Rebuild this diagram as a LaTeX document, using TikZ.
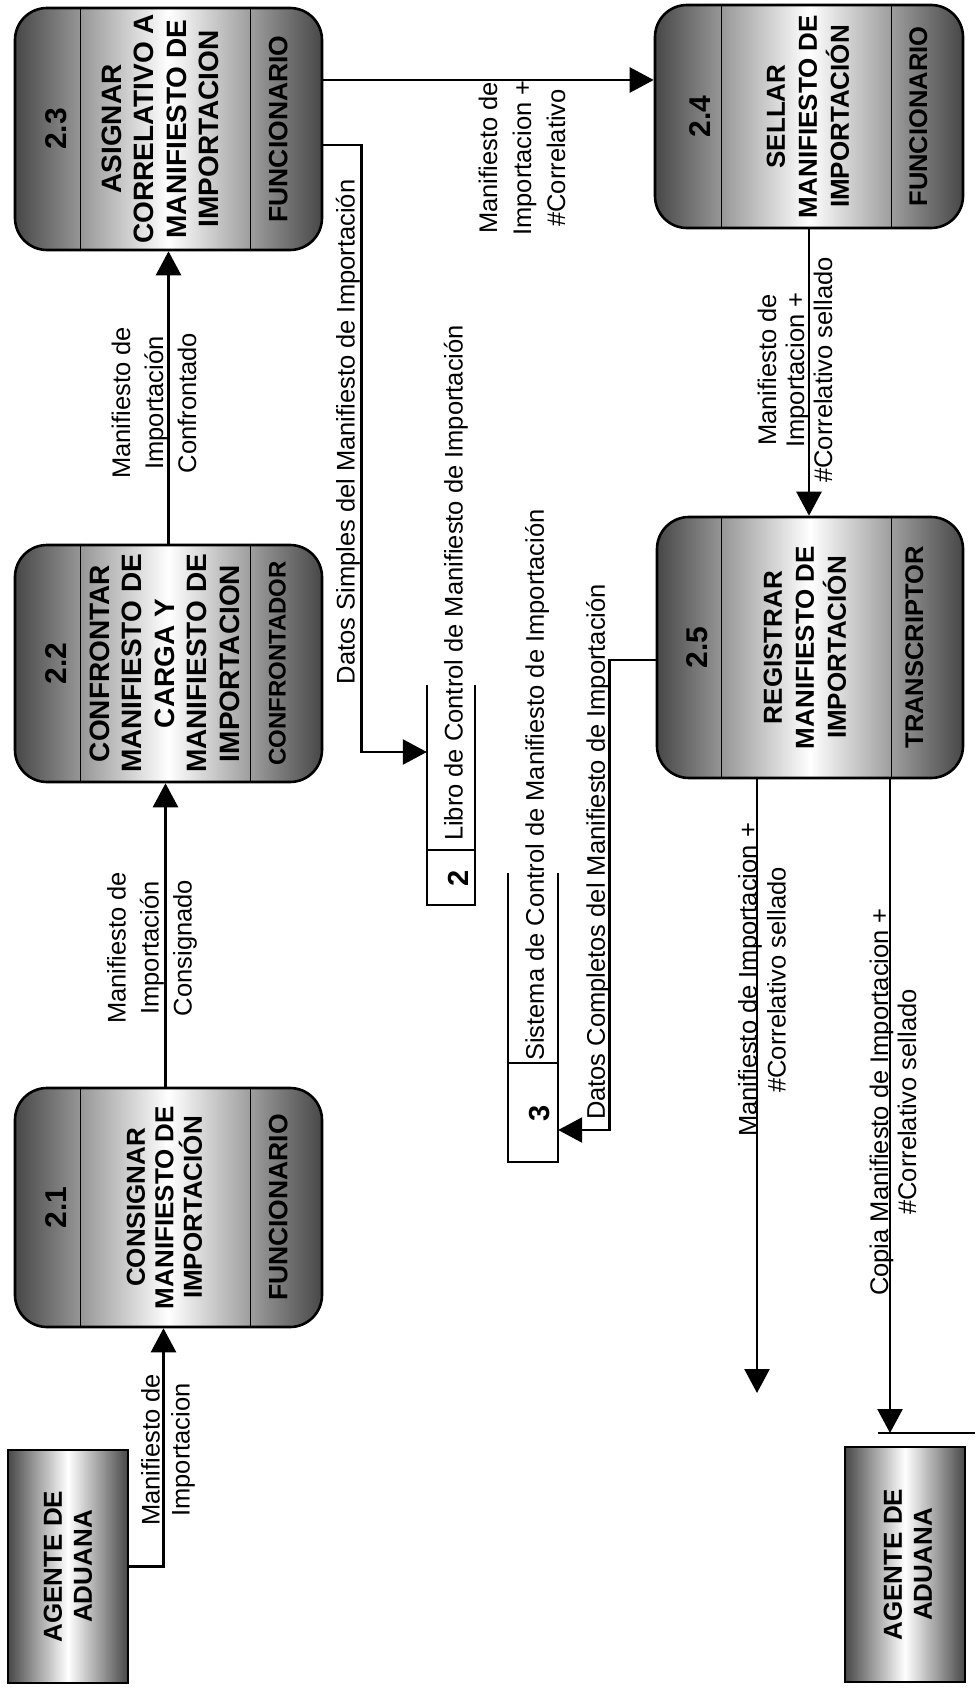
\documentclass[tikz,border=0pt]{standalone}
\usepackage{fontspec}
\setmainfont{Liberation Sans}
\usetikzlibrary{arrows.meta}
\pgfdeclarehorizontalshading{metal}{100bp}{color(0bp)=(black!72); color(25bp)=(black!72); color(36bp)=(black!40); color(50bp)=(white); color(64bp)=(black!40); color(75bp)=(black!72); color(100bp)=(black!72)}
\begin{document}
\begin{tikzpicture}[x=1pt,y=-1pt,
  proc/.style={draw, line width=2.6pt, rounded corners=32pt, shade, shading=metal, inner sep=0pt},
  ent/.style={draw, line width=2.6pt, shade, shading=metal, inner sep=0pt, minimum width=120pt},
  flow/.style={line width=2.6pt, -{Triangle[length=24pt,width=25pt]}},
  conn/.style={line width=2.6pt},
  divline/.style={line width=1.5pt},
  storeline/.style={line width=2pt},
  storenode/.style={inner sep=0pt},
  lbl/.style={rotate=90, inner sep=0pt, align=center, font=\fontsize{25.5}{30}\selectfont},
  ttl/.style={rotate=90, inner sep=0pt, align=center, font=\bfseries\fontsize{28}{32.5}\selectfont},
  ttlb/.style={rotate=90, inner sep=0pt, align=center, font=\bfseries\fontsize{26}{32}\selectfont},
  num/.style={rotate=90, inner sep=0pt, font=\bfseries\fontsize{30}{34}\selectfont},
  role/.style={rotate=90, inner sep=0pt, font=\bfseries\fontsize{26.5}{30}\selectfont},
  enttxt/.style={rotate=90, inner sep=0pt, align=center, font=\bfseries\fontsize{26}{30}\selectfont}
]
\path[use as bounding box, fill=white] (0,0) rectangle (975,1688);

% ---------- processes ----------
\node[proc, minimum width=307pt, minimum height=242pt] (p23) at (168.5,129) {};
\node[proc, minimum width=307pt, minimum height=237pt] (p22) at (168.5,663.5) {};
\node[proc, minimum width=307pt, minimum height=239pt] (p21) at (168.5,1207.5) {};
\node[proc, minimum width=308pt, minimum height=223pt] (p24) at (809,116.5) {};
\node[proc, minimum width=306pt, minimum height=261pt] (p25) at (810,647.5) {};

\foreach \n/\a/\b in {p23/67/237, p22/67/237, p21/67/237, p24/68/238, p25/66/236} {
  \draw[divline] ([xshift=\a pt]\n.north west) -- ([xshift=\a pt]\n.south west);
  \draw[divline] ([xshift=\b pt]\n.north west) -- ([xshift=\b pt]\n.south west);
}

\node[num] (p23n) at ([xshift=42pt]p23.west) {2.3};
\node[ttl] (p23t) at ([xshift=-8pt]p23.center) {ASIGNAR\\CORRELATIVO A\\MANIFIESTO DE\\IMPORTACION};
\node[role] (p23r) at ([xshift=-45pt]p23.east) {FUNCIONARIO};

\node[num] (p22n) at ([xshift=42pt]p22.west) {2.2};
\node[ttl] (p22t) at ([xshift=-4pt]p22.center) {CONFRONTAR\\MANIFIESTO DE\\CARGA Y\\MANIFIESTO DE\\IMPORTACION};
\node[role, font=\bfseries\fontsize{24}{28}\selectfont] (p22r) at ([xshift=-46pt]p22.east) {CONFRONTADOR};

\node[num] (p21n) at ([xshift=42pt]p21.west) {2.1};
\node[ttlb, font=\bfseries\fontsize{26}{28.5}\selectfont] (p21t) at ([xshift=-4pt]p21.center) {CONSIGNAR\\MANIFIESTO DE\\IMPORTACIÓN};
\node[role] (p21r) at ([xshift=-45pt]p21.east) {FUNCIONARIO};

\node[num] (p24n) at ([xshift=46pt]p24.west) {2.4};
\node[ttlb] (p24t) at ([xshift=-1pt]p24.center) {SELLAR\\MANIFIESTO DE\\IMPORTACIÓN};
\node[role, font=\bfseries\fontsize{25.5}{30}\selectfont] (p24r) at ([xshift=-46pt]p24.east) {FUNCIONARIO};

\node[num] (p25n) at ([xshift=41pt]p25.west) {2.5};
\node[ttlb] (p25t) at ([xshift=-5pt]p25.center) {REGISTRAR\\MANIFIESTO DE\\IMPORTACIÓN};
\node[role, font=\bfseries\fontsize{25.5}{30}\selectfont] (p25r) at ([xshift=-50pt]p25.east) {TRANSCRIPTOR};

% ---------- external entities ----------
\node[ent, minimum height=233pt] (a1) at (68,1566.5) {};
\node[enttxt] (a1t) at (a1.center) {AGENTE DE\\ADUANA};
\node[ent, minimum height=235pt] (a2) at (905,1564.5) {};
\node[enttxt] (a2t) at ([xshift=3pt]a2.center) {AGENTE DE\\ADUANA};
\coordinate (barL) at (878,1433);
\coordinate (barR) at (975,1433);
\draw[conn] (barL) -- (barR);

% ---------- data stores ----------
\node[storenode, minimum width=48pt, minimum height=220pt] (s2) at (451,795) {};
\draw[storeline] (s2.north west) -- (s2.south west) -- (s2.south east) -- (s2.north east);
\draw[storeline] ([yshift=55pt]s2.south west) -- ([yshift=55pt]s2.south east);
\node[num, font=\bfseries\fontsize{29}{32}\selectfont] (s2n) at (458,878) {2};
\node[lbl] (s2t) at (456,583) {Libro de Control de Manifiesto de Importación};

\node[storenode, minimum width=50pt, minimum height=289pt] (s3) at (533,1017.5) {};
\draw[storeline] (s3.north west) -- (s3.south west) -- (s3.south east) -- (s3.north east);
\draw[storeline] ([yshift=99pt]s3.south west) -- ([yshift=99pt]s3.south east);
\node[num, font=\bfseries\fontsize{29}{32}\selectfont] (s3n) at (540,1113) {3};
\node[lbl] (s3t) at (537,785) {Sistema de Control de Manifiesto de Importación};

% ---------- flows ----------
\draw[flow] (a1.east) -| ([xshift=-5pt]p21.south);
\node[lbl] (l1) at (168,1450) {Manifiesto de\\Importacion};

\draw[flow] ([xshift=-3pt]p21.north) -- ([xshift=-3pt]p22.south);
\node[lbl, font=\fontsize{25.5}{33}\selectfont] (l2) at (152,948) {Manifiesto de\\Importación\\Consignado};

\draw[flow] (p22.north) -- (p23.south);
\node[lbl, font=\fontsize{25.5}{33}\selectfont] (l3) at (154,403) {Manifiesto de\\Importación\\Confrontado};

\draw[flow] ([yshift=49pt]p23.east) -- ([yshift=49pt]p23.east -| p24.west);
\node[lbl, font=\fontsize{25.5}{34}\selectfont] (l4) at (522,158) {Manifiesto de\\Importacion +\\\#Correlativo};

\draw[flow] ([yshift=-16pt]p23.east) -- ++(38,0) |- ([yshift=43pt]s2.west);
\node[lbl] (l5) at (348,432) {Datos Simples del Manifiesto de Importación};

\draw[flow] (p24.south) -- (p24.south |- p25.north);
\node[lbl, font=\fontsize{25.5}{28}\selectfont] (l9) at (795,370) {Manifiesto de\\Importacion +\\\#Correlativo sellado};

\draw[flow] ([yshift=-12.5pt]p25.west) -- ++(-46,0) |- ([yshift=-112.5pt]s3.east);
\node[lbl] (l8) at (598,852) {Datos Completos del Manifiesto de Importación};

\coordinate (o1) at (757,1393);
\draw[flow] ([xshift=-53pt]p25.south) -- (o1);
\node[lbl, font=\fontsize{25.5}{29}\selectfont] (l10) at (762,980) {Manifiesto de Importacion +\\\#Correlativo sellado};

\coordinate (a2in) at (890,1433);
\draw[flow] ([xshift=80pt]p25.south) -- (a2in);
\node[lbl, font=\fontsize{25.5}{28}\selectfont] (l11) at (893,1102) {Copia Manifiesto de Importacion +\\\#Correlativo sellado};

\end{tikzpicture}
\end{document}
